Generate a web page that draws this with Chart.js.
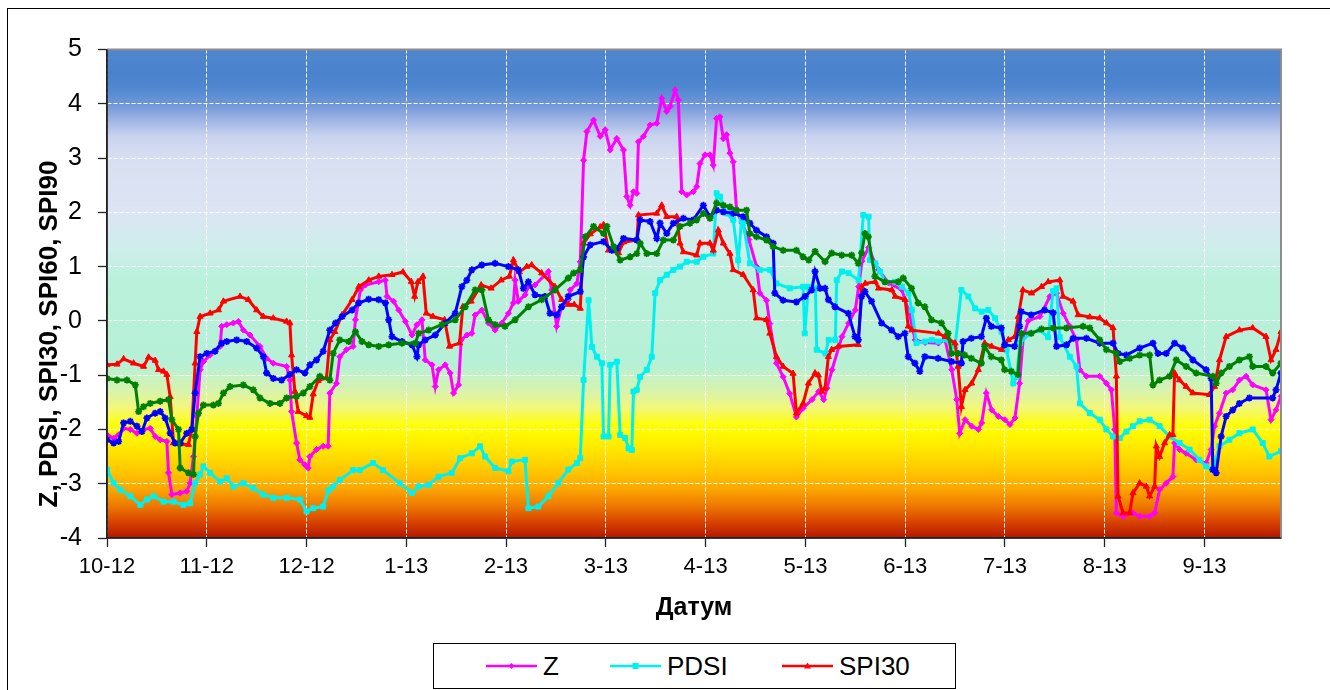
<!DOCTYPE html>
<html><head><meta charset="utf-8">
<script src="https://cdn.jsdelivr.net/npm/chart.js@4.4.1/dist/chart.umd.min.js"></script>
<style>
html,body{margin:0;padding:0;background:#fff;overflow:hidden;}
#wrap{position:relative;width:1330px;height:690px;overflow:hidden;}
#frame{position:absolute;left:7px;top:8px;width:1400px;height:800px;border:1px solid #000;box-sizing:border-box;}
canvas{position:absolute;left:0;top:0;}
#legend{position:absolute;left:433px;top:643px;width:523px;height:46px;border:1px solid #000;box-sizing:border-box;background:#fff;font:26px 'Liberation Sans',Arial,sans-serif;color:#000;}
.item{position:absolute;top:0;height:100%;display:flex;align-items:center;white-space:nowrap;}
.item span{margin-left:6px;}
</style></head>
<body><div id="wrap"><div id="frame"></div><canvas id="c" width="1330" height="690"></canvas><div id="legend"></div></div>
<script>
// ---- data (x = day index from 1 Oct 2012, y = index value) ----
const monthLabels = ["10-12","11-12","12-12","1-13","2-13","3-13","4-13","5-13","6-13","7-13","8-13","9-13"];
const daysPerLabel = 30;
const lastDay = 353;
const yTitle = "Z, PDSI, SPI30, SPI60, SPI90";
const xTitle = "Датум";

const zPoints = [[0,-2.1],[2,-2.16],[3.5,-2.1],[5,-1.98],[7,-2.0],[9,-2.07],[11,-2.0],[13,-1.98],[14.5,-2.13],[16,-2.19],[18,-2.22],[18.5,-2.8],[19.5,-3.2],[22,-3.17],[24,-3.14],[25,-2.99],[26,-2.5],[27,-1.76],[28,-0.9],[29,-0.75],[31,-0.63],[34,-0.47],[34.5,-0.1],[36,-0.07],[38,-0.04],[39.5,-0.01],[41,-0.17],[43,-0.26],[46,-0.47],[48,-0.69],[50,-0.78],[54,-0.84],[55,-1.09],[55.5,-1.67],[57,-2.25],[58,-2.56],[59.5,-2.65],[60.5,-2.71],[61,-2.5],[63,-2.37],[65,-2.31],[66.5,-2.31],[67,-1.33],[69,-1.15],[70,-0.66],[72,-0.53],[74,-0.47],[74.7,0.02],[76.2,0.57],[77.7,0.66],[81.7,0.72],[83.7,0.75],[84.2,0.45],[86.2,0.36],[87.7,0.2],[89.7,-0.01],[91.7,-0.26],[93.2,-0.07],[94.7,0.02],[95.7,-0.72],[97.7,-0.81],[98.7,-1.21],[99.7,-0.9],[101.7,-0.81],[103.2,-0.96],[104.2,-1.33],[105.7,-1.18],[106.5,-0.35],[108.2,-0.26],[109.7,-0.23],[110.7,0.11],[112.7,0.2],[114.7,-0.04],[116.7,-0.17],[118.7,-0.04],[120.7,0.14],[122.2,0.33],[122.7,0.75],[123.7,0.36],[125.7,0.48],[126.7,0.63],[128.7,0.66],[132.7,0.91],[133.7,0.57],[135.2,-0.1],[136.7,0.26],[138.7,0.39],[139.3,0.57],[141.3,0.69],[142.3,1.09],[143.3,2.96],[144.3,3.49],[146.3,3.7],[148.3,3.4],[149.8,3.52],[151.3,3.15],[153.3,3.36],[155.3,3.15],[156.3,2.29],[157.3,2.13],[158.3,2.38],[159.3,2.35],[159.8,3.3],[161.3,3.4],[163.3,3.61],[165.3,3.64],[166.8,4.1],[168.3,3.86],[169.3,3.95],[170.8,4.25],[171.8,4.07],[172.8,2.38],[174.3,2.32],[176.3,2.38],[177.3,2.47],[178.3,2.9],[179.8,3.06],[181.3,3.06],[182.3,2.87],[183.3,3.73],[184.3,3.76],[185.3,3.36],[186.3,3.43],[187.3,3.09],[188.3,2.93],[189.3,2.04],[191,1.8],[193,1.5],[195.3,1.0],[196.3,0.51],[198.3,0.38],[199.3,-0.05],[201.3,-0.78],[203.3,-1.03],[205.3,-1.34],[207.3,-1.77],[209.3,-1.61],[212,-1.45],[214,-1.3],[215.5,-1.45],[216.5,-1.24],[218,-0.9],[221,-0.29],[223,-0.04],[225,0.2],[226,0.63],[227,1.1],[229,1.35],[231,1.05],[232,0.94],[235,0.7],[239,0.57],[241,0.2],[243,-0.35],[246,-0.4],[250,-0.41],[252,-0.35],[254,-0.9],[255.5,-1.45],[256.4,-2.07],[258,-1.82],[260,-1.94],[262,-2.0],[263,-1.88],[264.4,-1.33],[266,-1.64],[268,-1.76],[270,-1.82],[271.5,-1.91],[273,-1.79],[274.4,-1.15],[275.5,-0.3],[277,0.0],[280.5,0.08],[283.5,0.45],[285.5,0.51],[287.5,0.14],[289.5,-0.1],[291.5,-0.35],[292.5,-0.9],[294.5,-1.02],[298.5,-1.02],[300.5,-1.15],[302,-1.27],[303,-2.0],[303.5,-3.54],[305.5,-3.6],[308.5,-3.54],[310.5,-3.6],[313.5,-3.6],[315,-3.54],[316.5,-3.11],[318.5,-2.99],[320.5,-2.87],[321,-2.25],[322.5,-2.37],[324.5,-2.44],[327.5,-2.56],[330.5,-2.62],[332,-2.37],[333,-1.94],[334.5,-1.7],[336.5,-1.33],[338.5,-1.27],[340.5,-1.09],[342.5,-1.02],[344.5,-1.18],[348.5,-1.27],[350,-1.82],[351.5,-1.64],[353,-1.39]];

const pdsiPoints = [[0,-2.74],[2,-2.99],[4,-3.11],[7,-3.23],[10,-3.39],[12,-3.29],[14,-3.23],[17,-3.33],[20,-3.33],[23,-3.39],[25,-3.36],[26.5,-2.99],[28,-2.83],[29,-2.68],[31,-2.8],[34,-2.96],[36,-2.9],[38,-3.05],[41,-2.99],[44,-3.08],[47,-3.2],[50,-3.26],[54,-3.26],[58,-3.29],[60,-3.51],[62,-3.45],[65,-3.42],[66.6,-3.12],[68,-3.05],[70,-2.93],[74,-2.75],[76,-2.75],[80,-2.62],[83,-2.75],[88,-2.99],[91.7,-3.17],[93.7,-3.05],[96.7,-3.02],[99.7,-2.87],[103.7,-2.8],[106.2,-2.53],[109.7,-2.44],[112.2,-2.31],[113.7,-2.5],[116.7,-2.71],[120.7,-2.77],[121.7,-2.59],[125.7,-2.56],[126.7,-3.45],[129.7,-3.42],[132.7,-3.23],[135.7,-2.99],[138.7,-2.74],[141.3,-2.62],[142.3,-2.53],[143.3,-1.09],[144.8,0.38],[145.8,-0.48],[147.3,-0.66],[148.8,-0.78],[149.3,-2.13],[150.8,-2.13],[151.3,-0.81],[153.3,-0.75],[154.3,-2.1],[155.8,-2.16],[156.8,-2.35],[157.8,-2.38],[158.3,-1.3],[159.3,-1.27],[160.3,-1.03],[162.3,-0.9],[163.8,-0.66],[164.8,0.51],[166.3,0.75],[168.3,0.85],[170.3,0.94],[172.3,1.0],[174.3,1.09],[177.3,1.09],[179.3,1.18],[182.3,1.24],[183.3,2.35],[184.3,2.29],[186.3,1.98],[188.3,1.86],[189.8,1.12],[190.8,1.86],[191.3,1.8],[193.3,1.06],[196.3,0.94],[199.3,0.94],[201.3,0.69],[205.3,0.6],[209.3,0.63],[209.8,-0.23],[210.9,0.63],[213,0.6],[213.4,-0.53],[216,-0.6],[217,-0.35],[219,-0.35],[219.4,0.75],[221,0.91],[223,0.88],[226,0.75],[227.4,1.95],[229,1.92],[229.4,1.12],[231,1.06],[232.4,0.91],[234,0.72],[237,0.72],[239,0.63],[241,0.51],[242,0.2],[243.4,-0.41],[246,-0.38],[248,-0.35],[250,-0.38],[253,-0.35],[255,-0.47],[256.9,0.57],[259,0.45],[261,0.23],[263,0.17],[265,0.2],[267,0.05],[269,-0.2],[270.5,-0.54],[272.5,-1.15],[273.5,-1.03],[274.5,-0.41],[277.5,-0.23],[280.5,-0.17],[283,-0.3],[284.5,0.55],[285.5,0.6],[286.5,-0.3],[289.5,-0.66],[291.5,-0.84],[292.5,-1.52],[295.5,-1.7],[298.5,-1.82],[300.5,-2.0],[302.5,-2.13],[304.5,-2.16],[306.5,-2.04],[308.5,-1.94],[310.5,-1.85],[313.5,-1.82],[316.5,-1.94],[319.5,-2.13],[322.5,-2.25],[325.5,-2.37],[328.5,-2.56],[330.5,-2.68],[332.5,-2.74],[334.5,-2.31],[337.5,-2.19],[340.5,-2.07],[344.5,-2.0],[347.5,-2.25],[349.5,-2.5],[353,-2.4]];

const spi30Points = [[0,-0.81],[3,-0.8],[5,-0.7],[8,-0.78],[11,-0.84],[12.5,-0.67],[14.5,-0.73],[15.5,-0.9],[17,-0.93],[18,-0.99],[19,-1.4],[20,-2.25],[22,-2.27],[24.5,-2.28],[25.5,-2.0],[26.5,-0.78],[27,-0.2],[28,0.08],[31,0.14],[33.5,0.2],[35,0.36],[40,0.45],[42.5,0.39],[45,0.2],[47,0.08],[50,0.05],[54,-0.01],[55,-0.04],[55.5,-0.63],[56.5,-1.3],[57.5,-1.67],[60,-1.75],[61,-1.78],[62,-1.35],[63.5,-1.1],[66,-1.05],[67,-0.35],[68.5,-0.2],[70.7,0.11],[73.7,0.39],[75.7,0.63],[78.7,0.75],[81.7,0.82],[85.7,0.85],[89,0.9],[91.5,0.72],[92.5,0.45],[93.5,0.72],[95,0.82],[96,0.14],[98,0.08],[101.5,0.02],[103,-0.47],[106,-0.41],[107,0.26],[109.5,0.36],[112.5,0.66],[115.5,0.6],[118.5,0.75],[121,0.82],[122.2,1.12],[124,0.9],[126.2,1.0],[127.7,1.03],[130.7,0.88],[134.7,0.63],[136.7,0.39],[138.7,0.3],[140.5,0.3],[142.3,0.23],[143.3,1.43],[145.3,1.6],[148.3,1.73],[149.3,1.77],[150.8,1.3],[153.8,1.25],[155.3,1.45],[159.3,1.49],[159.8,1.95],[165.3,1.98],[166.8,2.13],[168.3,1.92],[171.3,1.92],[172.3,1.43],[173.3,1.27],[177.3,1.21],[178.3,1.43],[181.3,1.43],[182.3,1.3],[183.8,1.67],[185.3,1.43],[187.3,1.24],[188.3,0.94],[191.3,0.85],[194.3,0.57],[195.3,0.05],[198.3,0.02],[199.3,-0.23],[201.3,-0.66],[203.3,-0.84],[206.3,-0.97],[207.3,-1.7],[209.3,-1.52],[210.9,-1.15],[212.9,-0.96],[213.9,-1.0],[214.9,-1.3],[215.9,-1.24],[216.9,-0.66],[217.9,-0.53],[219.9,-0.47],[225.9,-0.44],[226.9,0.63],[228,0.69],[231,0.72],[232,0.6],[236,0.57],[237,0.45],[240,0.39],[240.9,-0.1],[242,-0.17],[250,-0.23],[252,-0.29],[255,-0.41],[255.9,-0.84],[256.9,-1.58],[258,-1.27],[260,-1.15],[262,-0.9],[263.9,-0.41],[266,-0.47],[269,-0.53],[271,-0.35],[273,-0.29],[274,0.08],[275.4,0.57],[278,0.51],[281,0.63],[283,0.72],[286.5,0.75],[287.5,0.45],[290.5,0.36],[292,0.11],[295.5,0.07],[298.5,0.05],[300.5,-0.04],[302.5,-0.13],[303.5,-1.02],[304,-3.23],[305.5,-3.54],[307.5,-3.54],[308.5,-3.17],[310.5,-2.99],[312.5,-3.05],[313.5,-3.23],[315,-3.05],[315.5,-2.31],[316.5,-2.5],[318,-2.25],[319.5,-2.1],[320.5,-2.1],[321,-0.96],[322.5,-1.09],[324.5,-1.21],[326.5,-1.33],[331.5,-1.36],[333,-1.21],[334.5,-0.72],[336.5,-0.29],[340.5,-0.17],[344.5,-0.13],[348.5,-0.29],[350,-0.72],[351.5,-0.53],[353,-0.2]];

const spi60Points = [[0,-2.19],[2,-2.25],[3.5,-2.22],[5,-1.88],[7,-1.85],[9,-1.94],[10.5,-2.04],[12,-1.79],[14.5,-1.7],[16,-1.67],[17.5,-1.79],[19,-2.07],[20.5,-2.25],[22,-2.25],[24,-2.07],[25.5,-2.0],[26.5,-1.33],[28,-0.66],[30,-0.6],[32.5,-0.56],[34.5,-0.41],[36,-0.38],[39,-0.35],[42,-0.38],[45,-0.5],[47,-0.66],[48,-0.96],[50,-1.06],[52.5,-1.09],[55,-0.99],[57,-0.9],[59.5,-0.96],[61,-0.81],[63,-0.72],[65,-0.56],[67,-0.17],[68.7,-0.04],[70.7,0.08],[73.7,0.2],[75.7,0.33],[78.7,0.4],[81.7,0.39],[83.7,0.33],[84.7,0.02],[85.7,-0.29],[88.7,-0.38],[91.7,-0.44],[93.2,-0.66],[93.7,-0.44],[95.7,-0.35],[98.7,-0.26],[101.7,-0.04],[104.7,0.14],[106.7,0.63],[108.2,0.75],[109.7,0.94],[112.7,1.03],[116.7,1.06],[120.7,1.0],[123.7,0.94],[125.2,0.6],[126.7,0.72],[128.7,0.48],[131.7,0.45],[133.2,0.14],[135.2,0.11],[136.7,0.26],[138.7,0.45],[142.3,0.54],[143.3,1.18],[145.3,1.4],[149.3,1.46],[151.8,1.3],[153.3,1.33],[155.3,1.52],[159.3,1.49],[160.3,1.86],[163.3,1.83],[165.3,1.52],[166.3,1.8],[168.3,1.61],[170.3,1.8],[173.3,1.89],[176.3,1.86],[179.3,2.13],[181.3,1.92],[183.3,2.04],[185.3,2.01],[188.3,1.98],[191.3,1.92],[193.3,1.8],[195.3,1.67],[198.3,1.55],[200.3,1.43],[200.8,0.51],[203.3,0.38],[207.3,0.35],[209.9,0.45],[211.9,0.57],[212.9,0.91],[214.4,0.6],[215.9,0.6],[216.9,0.39],[218.9,0.26],[222.9,0.14],[224.9,-0.29],[225.9,-0.35],[226.9,0.45],[227.9,0.54],[229.9,0.36],[232.9,-0.04],[235.9,-0.17],[237.9,-0.29],[239.9,-0.23],[240.9,-0.66],[242.9,-0.78],[244.4,-0.93],[245.9,-0.66],[249.9,-0.69],[253.9,-0.75],[256.9,-0.78],[257.4,-0.38],[259.9,-0.32],[262.9,-0.29],[264.4,0.05],[265.9,-0.1],[268.9,-0.13],[269.9,-0.44],[272.9,-0.47],[274.4,-0.1],[274.9,0.17],[277.9,0.11],[281.9,0.2],[284.5,0.15],[285.5,-0.47],[288.5,-0.44],[290.5,-0.32],[294.5,-0.32],[298.5,-0.41],[302.5,-0.41],[304,-0.6],[306.5,-0.63],[310.5,-0.5],[314.5,-0.41],[316,-0.6],[318.5,-0.6],[321,-0.41],[323.5,-0.5],[326.5,-0.72],[330.5,-0.9],[332,-1.06],[332.5,-2.74],[333.5,-2.8],[335,-2.13],[336.5,-1.76],[338.5,-1.64],[340.5,-1.52],[343.5,-1.42],[350.5,-1.42],[351.5,-1.27],[353,-0.96]];

const spi90Points = [[0,-1.06],[3,-1.09],[6,-1.09],[8.5,-1.18],[9.5,-1.67],[11,-1.58],[13,-1.52],[16,-1.48],[18.5,-1.45],[19.5,-1.82],[21.5,-2.0],[22,-2.71],[24.5,-2.8],[26,-2.83],[26.5,-2.13],[27.5,-1.7],[29,-1.55],[32,-1.55],[33.5,-1.52],[35,-1.33],[37,-1.21],[41,-1.18],[44,-1.27],[46,-1.42],[49,-1.52],[52,-1.52],[54,-1.42],[57,-1.39],[59,-1.33],[61,-1.21],[64,-1.02],[67,-1.09],[68,-0.6],[70,-0.35],[72.7,-0.38],[74.7,-0.2],[76.7,-0.38],[78.7,-0.44],[81.7,-0.47],[84.7,-0.44],[88.7,-0.41],[92.7,-0.41],[93.7,-0.23],[96.7,-0.17],[100.7,-0.07],[104.7,0.02],[107.7,0.26],[110.7,0.57],[112.7,0.57],[114.7,0.02],[116.7,-0.07],[119.7,-0.1],[122.7,0.02],[126.7,0.26],[130.7,0.39],[134.7,0.57],[138.7,0.79],[140.3,0.88],[142.3,0.94],[143.8,1.55],[146.3,1.74],[149.3,1.61],[150.3,1.74],[152.3,1.37],[154.3,1.12],[157.3,1.18],[159.3,1.24],[160.3,1.43],[162.3,1.24],[165.3,1.24],[167.3,1.49],[170.3,1.49],[172.3,1.74],[175.3,1.8],[177.3,1.86],[179.3,1.98],[181.3,1.89],[183.3,2.17],[185.3,2.13],[187.3,2.1],[189.3,2.04],[192.3,2.04],[193.3,1.61],[195.3,1.55],[198.3,1.49],[200.3,1.37],[203.3,1.3],[207.3,1.3],[209.3,1.18],[211,1.12],[212.9,1.28],[215.9,1.09],[217.9,1.25],[220.9,1.21],[223.9,1.21],[225.9,1.06],[226.9,1.25],[227.9,1.61],[228.9,1.55],[230.9,0.82],[233.9,0.72],[237.9,0.72],[239.4,0.79],[241.9,0.6],[243.9,0.33],[245.9,0.26],[247.9,0.02],[250.9,-0.04],[252.9,-0.23],[253.9,-0.6],[255.9,-0.6],[257.9,-0.63],[259.9,-0.69],[262.9,-0.78],[263.9,-0.47],[265.9,-0.66],[268.9,-0.72],[269.9,-0.9],[271.9,-0.93],[273.9,-0.99],[274.9,-0.23],[277.9,-0.23],[281,-0.15],[284.5,-0.13],[288.5,-0.13],[293.5,-0.1],[295.5,-0.13],[298.5,-0.35],[300.5,-0.53],[303.5,-0.6],[304.5,-0.75],[307.5,-0.69],[310.5,-0.63],[313.5,-0.63],[314.5,-1.18],[316.5,-1.09],[319.5,-1.02],[321.5,-0.72],[324.5,-0.84],[327.5,-0.96],[332.5,-1.02],[333.5,-1.15],[335,-0.96],[337.5,-0.84],[340.5,-0.72],[343.5,-0.66],[344.5,-0.84],[348.5,-0.84],[350.5,-0.96],[353,-0.78]];

// ---- styling ----
const FONT = "'Liberation Sans', Arial, sans-serif";
Chart.defaults.font.family = FONT;
Chart.defaults.color = '#000';

const seriesDefs = [
  {label:'Z', pts:zPoints, color:'#ff00ff', style:'rectRot', r:3, order:5, legend:true},
  {label:'PDSI', pts:pdsiPoints, color:'#00f0f0', style:'rect', r:3.5, order:4, legend:true},
  {label:'SPI30', pts:spi30Points, color:'#ff0000', style:'triangle', r:3.5, order:3, legend:true},
  {label:'SPI60', pts:spi60Points, color:'#0000ff', style:'star', r:3.5, order:2, legend:false},
  {label:'SPI90', pts:spi90Points, color:'#008000', style:'star', r:3.5, order:1, legend:false}
];

const gradStops = [[5,'#5087cf'],[4.55,'#4a82cd'],[4.3,'#5087d0'],[4.0,'#6e96d9'],[3.7,'#9fb4e4'],[3.4,'#c9d3ef'],[3.0,'#d8dff2'],[2.0,'#dde5f4'],[1.3,'#cdeeea'],[0.8,'#baf1dc'],[-0.8,'#b6f0d6'],[-1.3,'#d8f3ac'],[-1.6,'#f3f77a'],[-1.95,'#ffff00'],[-2.3,'#ffec00'],[-2.8,'#ffc400'],[-3.1,'#fba600'],[-3.4,'#ee7a00'],[-3.7,'#d84400'],[-4.0,'#b51500']];

const bgPlugin = {
  id:'bg',
  beforeDraw(chart){
    const {ctx, chartArea:a, scales:{y}} = chart;
    const g = ctx.createLinearGradient(0,a.top,0,a.bottom);
    for (const [v,c] of gradStops) {
      const t = (y.getPixelForValue(v)-a.top)/(a.bottom-a.top);
      g.addColorStop(Math.min(1,Math.max(0,t)), c);
    }
    ctx.save(); ctx.fillStyle = g; ctx.fillRect(a.left,a.top,a.right-a.left,a.bottom-a.top); ctx.restore();
  }
};
const framePlugin = {
  id:'frame',
  afterDatasetsDraw(chart){
    const {ctx, chartArea:a} = chart;
    ctx.save();
    ctx.strokeStyle = '#8c8c8c'; ctx.lineWidth = 2;
    ctx.beginPath(); ctx.moveTo(a.left, a.top); ctx.lineTo(a.right, a.top); ctx.lineTo(a.right, a.bottom); ctx.stroke();
    ctx.strokeStyle = '#222'; ctx.lineWidth = 1.5;
    ctx.beginPath(); ctx.moveTo(a.left, a.top); ctx.lineTo(a.left, a.bottom); ctx.lineTo(a.right, a.bottom); ctx.stroke();
    ctx.restore();
  },
  afterDraw(chart){
    const ctx = chart.ctx;
    ctx.save();
    ctx.translate(50, 334);
    ctx.rotate(-Math.PI/2);
    ctx.font = "bold 26px " + FONT;
    ctx.textAlign = 'center'; ctx.textBaseline = 'middle'; ctx.fillStyle = '#000';
    ctx.fillText(yTitle, 0, 0);
    ctx.restore();
  }
};

const gridOpts = {color:'rgba(255,255,255,0.95)', lineWidth:1, tickLength:9, tickColor:'#222', tickWidth:1.3, tickBorderDash:[]};
const borderOpts = {display:true, color:'#222', width:1.5, dash:[4,2]};

new Chart(document.getElementById('c'), {
  type:'line',
  data:{
    datasets: seriesDefs.map(s => ({
      label:s.label,
      data:s.pts.map(p => ({x:p[0], y:p[1]})),
      borderColor:s.color, backgroundColor:s.color,
      pointBackgroundColor:s.color, pointBorderColor:s.color,
      borderWidth:3, pointStyle:s.style, pointRadius:s.r, pointBorderWidth:s.style==='star'?1.8:1,
      tension:0, order:s.order, fill:false
    }))
  },
  options:{
    responsive:false, animation:false, devicePixelRatio:1,
    layout:{padding:{left:0, top:49.5, right:49, bottom:57}},
    plugins:{legend:{display:false}, tooltip:{enabled:false}},
    scales:{
      x:{
        type:'linear', min:0, max:lastDay,
        afterBuildTicks: s => { s.ticks = monthLabels.map((_,k) => ({value:k*daysPerLabel})); },
        afterFit: s => { s.height = 95; },
        ticks:{autoSkip:false, maxRotation:0, minRotation:0, padding:7, color:'#000', font:{size:22},
          callback:(v) => monthLabels[Math.round(v/daysPerLabel)] ?? ''},
        grid:gridOpts, border:borderOpts,
        title:{display:true, text:xTitle, color:'#000', font:{size:25, weight:'bold'}, padding:{top:0, bottom:10}}
      },
      y:{
        min:-4, max:5,
        afterFit: s => { s.width = 107; },
        ticks:{stepSize:1, padding:16, color:'#000', font:{size:25}},
        grid:gridOpts, border:borderOpts
      }
    }
  },
  plugins:[bgPlugin, framePlugin]
});

// ---- legend (first three series, as in the original) ----
const legendPos = [52, 176, 348];
const legendEl = document.getElementById('legend');
seriesDefs.filter(s => s.legend).forEach((s, k) => {
  const d = document.createElement('div');
  d.className = 'item'; d.style.left = legendPos[k] + 'px';
  let mk = '';
  if (s.style === 'rectRot') mk = `<polygon points="25.5,3 28.5,6 25.5,9 22.5,6" fill="${s.color}"/>`;
  else if (s.style === 'rect') mk = `<rect x="22.5" y="3" width="6" height="6" fill="${s.color}"/>`;
  else mk = `<polygon points="25.5,2.5 29,8.5 22,8.5" fill="${s.color}"/>`;
  d.innerHTML = `<svg width="51" height="12"><line x1="0" y1="6" x2="51" y2="6" stroke="${s.color}" stroke-width="2.5"/>${mk}</svg><span>${s.label}</span>`;
  legendEl.appendChild(d);
});
</script>
</body></html>
